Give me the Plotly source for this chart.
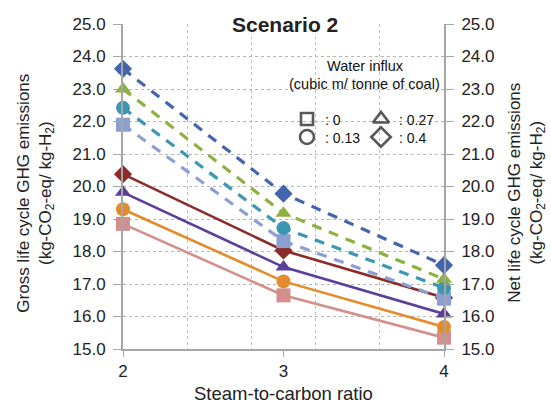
import plotly.graph_objects as go

steam_to_carbon = [2, 3, 4]
gross_0 = [18.85, 16.65, 15.35]
gross_013 = [19.3, 17.08, 15.68]
gross_027 = [19.82, 17.52, 16.08]
gross_04 = [20.38, 18.03, 16.58]
net_0 = [21.9, 18.32, 16.55]
net_013 = [22.42, 18.72, 16.88]
net_027 = [23.0, 19.18, 17.15]
net_04 = [23.62, 19.78, 17.58]
y_ticks = [15, 16, 17, 18, 19, 20, 21, 22, 23, 24, 25]
x_ticks = [2, 3, 4]
influx_labels = [": 0", ": 0.13", ": 0.27", ": 0.4"]
influx_symbols = ["square-open", "circle-open", "triangle-up-open", "diamond-open"]

FONT = "Liberation Sans, Arial, sans-serif"
fig = go.Figure()

net_series = [
    (net_0, "#8c9fd3", "square", "Net 0"),
    (net_013, "#3b97b4", "circle", "Net 0.13"),
    (net_027, "#8cb13f", "triangle-up", "Net 0.27"),
    (net_04, "#4365af", "diamond", "Net 0.4"),
]
gross_series = [
    (gross_0, "#d28f8c", "square", "Gross 0"),
    (gross_013, "#e48b2b", "circle", "Gross 0.13"),
    (gross_027, "#5a3f9b", "triangle-up", "Gross 0.27"),
    (gross_04, "#8b2c2a", "diamond", "Gross 0.4"),
]
for vals, col, sym, name in net_series:
    fig.add_trace(go.Scatter(
        x=steam_to_carbon, y=vals, mode="lines+markers", name=name,
        yaxis="y2", cliponaxis=False,
        line=dict(color=col, width=3.2, dash="10px,8px"),
        marker=dict(symbol=sym, size=14, color=col),
        showlegend=False))
for vals, col, sym, name in gross_series:
    fig.add_trace(go.Scatter(
        x=steam_to_carbon, y=vals, mode="lines+markers", name=name,
        cliponaxis=False,
        line=dict(color=col, width=2.6),
        marker=dict(symbol=sym, size=14, color=col),
        showlegend=False))

# legend key (positions of the key box, in pixel-like units of a hidden overlay axis)
key_x = [307, 307, 381, 381]
key_y = [119, 137, 119, 137]
fig.add_trace(go.Scatter(
    x=key_x, y=key_y, mode="markers", xaxis="x3", yaxis="y3",
    marker=dict(symbol=influx_symbols, size=[12, 14, 14, 15], color="#111",
                line=dict(color="#111", width=2.6)),
    cliponaxis=False, showlegend=False, hoverinfo="skip"))

axis_common = dict(
    range=[15, 25], tickvals=y_ticks, ticktext=[f"{v:.1f}" for v in y_ticks],
    tickfont=dict(family=FONT, size=17, color="#222"),
    showline=True, linecolor="#a6a6a6", linewidth=2,
    ticks="outside", ticklen=8, tickcolor="#a6a6a6", tickwidth=1,
    ticklabelstandoff=4,
    zeroline=False, fixedrange=True,
)
fig.update_layout(
    width=551, height=405,
    margin=dict(l=123, r=107, t=24, b=56),
    paper_bgcolor="white", plot_bgcolor="white",
    font=dict(family=FONT, color="#222"),
    xaxis=dict(
        range=[2, 4], tickvals=x_ticks, ticktext=[str(v) for v in x_ticks],
        tickfont=dict(family=FONT, size=17, color="#222"),
        showline=True, linecolor="#a6a6a6", linewidth=2,
        ticks="outside", ticklen=6, tickcolor="#a6a6a6",
        showgrid=False, zeroline=False,
        minor=dict(tick0=2, dtick=0.4, showgrid=True, gridcolor="#bdbdbd",
                   griddash="dot", gridwidth=1, ticks=""),
    ),
    yaxis=dict(**axis_common, side="left", showgrid=True,
               gridcolor="#b5b5b5", griddash="dot", gridwidth=1),
    yaxis2=dict(**axis_common, side="right", overlaying="y", showgrid=False),
    xaxis3=dict(overlaying="x", range=[123, 444], visible=False, fixedrange=True),
    yaxis3=dict(overlaying="y", range=[349, 24], visible=False, fixedrange=True),
)

ann = [
    dict(text="<b>Scenario 2</b>", x=0.505, y=1.0, xref="paper", yref="paper",
         xanchor="center", yanchor="middle", showarrow=False,
         font=dict(family=FONT, size=21, color="#222"), bgcolor="white", borderpad=0),
    dict(text="Gross life cycle GHG emissions<br>(kg-CO<sub>2</sub>-eq/ kg-H<sub>2</sub>)",
         x=-0.272, y=0.48, xref="paper", yref="paper", textangle=-90,
         xanchor="center", yanchor="middle", showarrow=False,
         font=dict(family=FONT, size=17, color="#222")),
    dict(text="Net life cycle GHG emissions<br>(kg-CO<sub>2</sub>-eq/ kg-H<sub>2</sub>)",
         x=1.258, y=0.48, xref="paper", yref="paper", textangle=-90,
         xanchor="center", yanchor="middle", showarrow=False,
         font=dict(family=FONT, size=17, color="#222")),
    dict(text="Steam-to-carbon ratio", x=0.5, y=-0.138, xref="paper", yref="paper",
         xanchor="center", yanchor="middle", showarrow=False,
         font=dict(family=FONT, size=18.5, color="#222")),
    dict(text="Water influx", x=365, y=66, xref="x3", yref="y3",
         xanchor="center", yanchor="middle", showarrow=False,
         font=dict(family=FONT, size=14.5, color="#111")),
    dict(text="(cubic m/ tonne of coal)", x=364, y=84, xref="x3", yref="y3",
         xanchor="center", yanchor="middle", showarrow=False,
         font=dict(family=FONT, size=14.5, color="#111")),
]
for kx, ky, lab in zip(key_x, key_y, influx_labels):
    ann.append(dict(text=lab, x=kx + 16, y=ky + 1, xref="x3", yref="y3",
                    xanchor="left", yanchor="middle", showarrow=False,
                    font=dict(family=FONT, size=14, color="#111")))
fig.update_layout(annotations=ann)

fig.write_html("out.html")
